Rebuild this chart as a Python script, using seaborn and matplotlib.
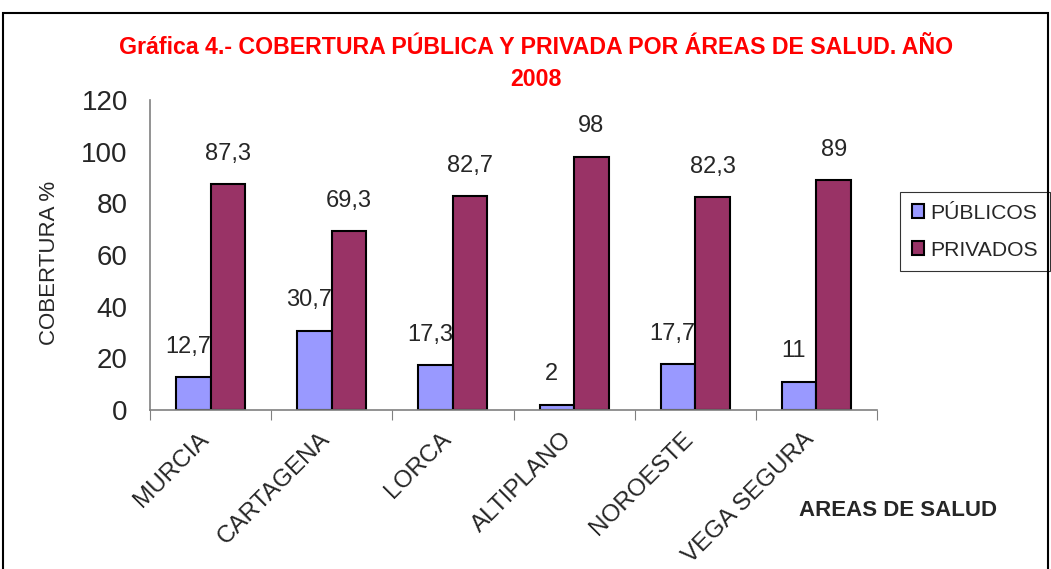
import pandas as pd
import seaborn as sns
import matplotlib.pyplot as plt
from matplotlib.patches import Rectangle

areas    = ["MURCIA", "CARTAGENA", "LORCA", "ALTIPLANO", "NOROESTE", "VEGA SEGURA"]
publicos = [12.7, 30.7, 17.3, 2, 17.7, 11]
privados = [87.3, 69.3, 82.7, 98, 82.3, 89]
series   = ["PÚBLICOS", "PRIVADOS"]
colores  = ["#9999FF", "#993366"]

df = pd.DataFrame({
    "area":  areas * 2,
    "tipo":  [series[0]] * len(areas) + [series[1]] * len(areas),
    "valor": publicos + privados,
})

sns.set_style("white")
plt.rcParams['font.family'] = ['Liberation Sans', 'DejaVu Sans']

fig = plt.figure(figsize=(10.51, 5.69), dpi=100)
ax = fig.add_axes([150/1051, 1-410/569, (877-150)/1051, 310/569])

sns.barplot(data=df, x="area", y="valor", hue="tipo", hue_order=series,
            palette=colores, order=areas, width=0.57, edgecolor="black",
            linewidth=1.5, saturation=1, ax=ax, legend=True)

# value labels above each bar (publicos a bit to the left, like excel)
for cont, dx in zip(ax.containers, [-4, 0]):
    for b in cont:
        h = b.get_height()
        ax.annotate(("%g" % h).replace(".", ","),
                    (b.get_x() + b.get_width() / 2, h),
                    xytext=(dx, 14), textcoords="offset points",
                    ha="center", va="bottom", fontsize=17)

ax.set_ylim(0, 120)
ax.set_yticks(range(0, 121, 20))
ax.set_xlim(-0.5, len(areas) - 0.5)

# ticks between the groups, labels (rotated) ending just left of group centre
ax.set_xticks([i - 0.5 for i in range(len(areas) + 1)])
ax.set_xticklabels([])
ax.set_xticks([i - 0.11 for i in range(len(areas))], minor=True)
ax.set_xticklabels(areas, minor=True, rotation=45, ha="right",
                   rotation_mode="anchor", fontsize=17.5)
ax.tick_params(axis="x", which="minor", length=0, pad=13)
ax.tick_params(axis="x", which="major", length=7, color="#808080", direction="out")
ax.tick_params(axis="y", length=7, color="#808080", labelsize=20, pad=9)
ax.tick_params(axis="x", which="both", bottom=True)

for s in ["top", "right"]:
    ax.spines[s].set_visible(False)
for s in ["left", "bottom"]:
    ax.spines[s].set_color("#808080")
    ax.spines[s].set_linewidth(1.2)

ax.set_xlabel("")
ax.set_ylabel("COBERTURA %", fontsize=16)
ax.yaxis.set_label_coords(-0.124, 0.474)

handels, labels = ax.get_legend_handles_labels()
leg = ax.legend(handels, labels, loc="upper left", bbox_to_anchor=(900/1051, 1-192/569),
                bbox_transform=fig.transFigure, fontsize=15.2, frameon=True,
                fancybox=False, edgecolor="black", handlelength=0.6, handleheight=0.6,
                handletextpad=0.3, labelspacing=0.85, borderpad=0.55, borderaxespad=0)
leg.get_frame().set_linewidth(0.8)

fig.text(536/1051, 1-47/569, "Gráfica 4.- COBERTURA PÚBLICA Y PRIVADA POR ÁREAS DE SALUD. AÑO",
         ha="center", va="center", color="#FF0000", fontsize=16.7, fontweight="bold")
fig.text(536/1051, 1-79/569, "2008", ha="center", va="center",
         color="#FF0000", fontsize=16.7, fontweight="bold")
fig.text(898/1051, 1-510/569, "AREAS DE SALUD", ha="center", va="center",
         fontsize=16, fontweight="bold")

fig.patches.append(Rectangle((3/1051, -0.02), 1045/1051, 1 - 13/569 + 0.02,
                             transform=fig.transFigure, fill=False,
                             edgecolor="black", linewidth=1.5))

plt.savefig("out.png", dpi=100)
